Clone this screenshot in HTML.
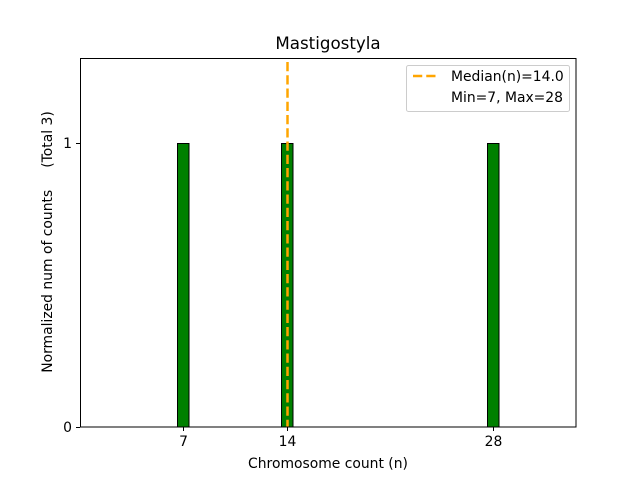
<!DOCTYPE html>
<html><head><style>body{margin:0;background:#fff}</style></head><body>
<svg width="640" height="480" xmlns="http://www.w3.org/2000/svg" font-family="DejaVu Sans, Liberation Sans, sans-serif">
<rect width="640" height="480" fill="#fff"/>
<g fill="#008000" stroke="#000" stroke-width="1">
<rect x="177.5" y="143.5" width="11.5" height="283.5"/>
<rect x="281.5" y="143.5" width="11.5" height="283.5"/>
<rect x="487.5" y="143.5" width="11.5" height="283.5"/>
</g>
<line x1="287.5" y1="62" x2="287.5" y2="427" stroke="#FFA500" stroke-width="2.5" stroke-dasharray="9.25,4"/>
<rect x="80.5" y="58.5" width="495.5" height="368.5" fill="none" stroke="#000" stroke-width="1"/>
<g stroke="#000">
<line x1="183.5" y1="427" x2="183.5" y2="431"/>
<line x1="287.5" y1="427" x2="287.5" y2="431"/>
<line x1="493.5" y1="427" x2="493.5" y2="431"/>
<line x1="76" y1="427.5" x2="80" y2="427.5"/>
<line x1="76" y1="143.5" x2="80" y2="143.5"/>
</g>
<g font-size="13.9" fill="#000">
<text x="183.5" y="446" text-anchor="middle">7</text>
<text x="287.5" y="446" text-anchor="middle">14</text>
<text x="493.5" y="446" text-anchor="middle">28</text>
<text x="72" y="432" text-anchor="end">0</text>
<text x="72" y="148" text-anchor="end">1</text>
<text x="328" y="468" text-anchor="middle">Chromosome count (n)</text>
<text transform="translate(52,242) rotate(-90)" text-anchor="middle" xml:space="preserve">Normalized num of counts     (Total 3)</text>
</g>
<text x="328" y="49" font-size="16.7" text-anchor="middle">Mastigostyla</text>
<rect x="406.5" y="65.5" width="163" height="46" rx="2" fill="#fff" fill-opacity="0.8" stroke="#ccc"/>
<line x1="413" y1="76" x2="437" y2="76" stroke="#FFA500" stroke-width="2.5" stroke-dasharray="9.25,4"/>
<g font-size="13.9" fill="#000">
<text x="451" y="81">Median(n)=14.0</text>
<text x="451" y="102">Min=7, Max=28</text>
</g>
</svg>
</body></html>
